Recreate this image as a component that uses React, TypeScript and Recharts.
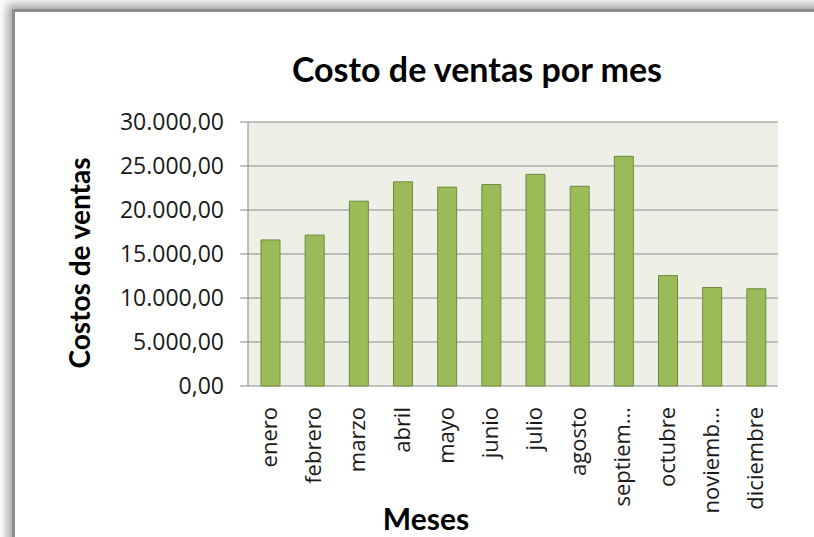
import React from 'react';
import { BarChart, Bar, XAxis, YAxis, CartesianGrid, Label } from 'recharts';

const months = ['enero', 'febrero', 'marzo', 'abril', 'mayo', 'junio', 'julio', 'agosto', 'septiembre', 'octubre', 'noviembre', 'diciembre'];
const monthTickLabels = ['enero', 'febrero', 'marzo', 'abril', 'mayo', 'junio', 'julio', 'agosto', 'septiem…', 'octubre', 'noviemb…', 'diciembre'];
const costoVentas = [16600, 17150, 21000, 23200, 22600, 22900, 24050, 22700, 26100, 12550, 11200, 11050];
const yTicks = [0, 5000, 10000, 15000, 20000, 25000, 30000];
const edgeTicks = [0, 1, 2, 3, 4, 5, 6, 7, 8, 9, 10, 11, 12];

const chartTitle = 'Costo de ventas por mes';
const yTitle = 'Costos de ventas';
const xTitle = 'Meses';

const data = months.map((m, i) => ({ mes: m, costo: costoVentas[i] }));

const fmt = (v: number) => {
  const [i, d] = v.toFixed(2).split('.');
  return i.replace(/\B(?=(\d{3})+(?!\d))/g, '.') + ',' + d;
};

const FONT = "'Open Sans', sans-serif";
const TITLE_FONT = "Lato, 'Open Sans', sans-serif";

const XTick = (props: any) => {
  const { x, y, payload } = props;
  const label = monthTickLabels[months.indexOf(payload.value)] ?? payload.value;
  return (
    <text
      x={x}
      y={y}
      dy={7}
      transform={`rotate(-90, ${x}, ${y})`}
      textAnchor="end"
      fontFamily={FONT}
      fontSize={22}
      fill="#1a1a1a"
    >
      {label}
    </text>
  );
};

export default function App() {
  return (
    <div style={{ position: 'absolute', left: 0, top: 0, width: 814, height: 537, overflow: 'hidden', background: '#fff' }}>
      <div
        style={{
          position: 'absolute',
          left: 12,
          top: 9,
          width: 900,
          height: 700,
          borderTop: '3px solid #8c8c8c',
          borderLeft: '3px solid #8c8c8c',
          boxShadow: '-5px -5px 9px rgba(0,0,0,0.35)',
          background: '#fff',
        }}
      />
      <div style={{ position: 'absolute', left: 0, top: 0 }}>
        <BarChart width={814} height={537} data={data} margin={{ top: 122, right: 36, left: 0, bottom: 0 }}>
          <CartesianGrid vertical={false} stroke="#8c8c8c" fill="#eef0e8" fillOpacity={1} />
          <XAxis
            xAxisId="edges"
            type="number"
            domain={[0, 12]}
            ticks={edgeTicks}
            tick={false}
            tickSize={9}
            height={0}
            stroke="#868686"
            allowDataOverflow
          />
          <XAxis
            dataKey="mes"
            axisLine={false}
            tickLine={false}
            tickSize={0}
            tickMargin={21}
            interval={0}
            height={151}
            tick={<XTick />}
          >
            <Label
              content={(p: any) => {
                const vb = p.viewBox;
                const cx = vb.x + 178;
                const cy = vb.y + 144;
                return (
                  <text x={cx} y={cy} textAnchor="middle" fontFamily={TITLE_FONT} fontWeight={700} fontSize={30} fill="#000">
                    {xTitle}
                  </text>
                );
              }}
            />
          </XAxis>
          <YAxis
            width={248}
            domain={[0, 30000]}
            ticks={yTicks}
            interval={0}
            tickFormatter={fmt}
            tickSize={8}
            tickMargin={16}
            stroke="#868686"
            tick={{ fill: '#1a1a1a', fontSize: 23, fontFamily: FONT }}
          >
            <Label
              content={(p: any) => {
                const vb = p.viewBox;
                const cx = vb.x + 79;
                const cy = vb.y + vb.height / 2 + 9;
                return (
                  <text
                    x={cx}
                    y={cy}
                    transform={`rotate(-90, ${cx}, ${cy})`}
                    textAnchor="middle"
                    dominantBaseline="central"
                    fontFamily={TITLE_FONT}
                    fontWeight={700}
                    fontSize={28}
                    fill="#000"
                  >
                    {yTitle}
                  </text>
                );
              }}
            />
          </YAxis>
          <Bar dataKey="costo" fill="#9bbb59" stroke="#71893f" strokeWidth={1} barSize={19} isAnimationActive={false} />
        </BarChart>
      </div>
      <svg width={814} height={120} style={{ position: 'absolute', left: 0, top: 0 }}>
        <text x={477} y={82} textAnchor="middle" fontFamily={TITLE_FONT} fontWeight={700} fontSize={34} fill="#000">
          {chartTitle}
        </text>
      </svg>
    </div>
  );
}
